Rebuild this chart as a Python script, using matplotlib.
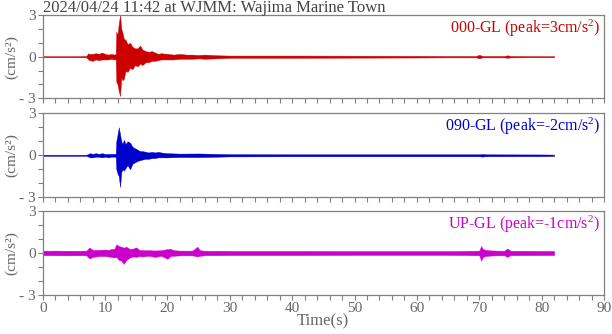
import matplotlib
matplotlib.use("Agg")
import matplotlib.pyplot as plt

plt.rcParams['font.family'] = ['Liberation Serif', 'DejaVu Serif']
plt.rcParams['mathtext.fontset'] = 'custom'
plt.rcParams['mathtext.rm'] = 'Liberation Serif'
plt.rcParams['mathtext.it'] = 'Liberation Serif:italic'

title = "2024/04/24 11:42 at WJMM: Wajima Marine Town"

# envelope of each trace (time s, upper, lower in cm/s^2)
ns_t = [0, 2, 4, 6, 7, 7.3, 7.5, 8, 8.5, 9, 9.5, 10, 10.5, 11, 11.5, 11.7,
        11.8, 12.0, 12.2, 12.4, 12.6, 12.8, 13.0, 13.3, 13.6, 14.0, 14.4, 14.8,
        15.2, 15.6, 16.0, 16.5, 17, 17.5, 18, 18.5, 19, 20, 21, 22, 23, 24, 25,
        26, 28, 30, 40, 50, 60, 65, 69.5, 70, 70.5, 74, 74.5, 75, 80, 82]
ns_up = [0.04, 0.04, 0.04, 0.04, 0.05, 0.25, 0.2, 0.2, 0.25, 0.2, 0.3, 0.2, 0.15, 0.2, 0.15, 0.2,
         1.8, 1.6, 2.4, 3.0, 2.0, 1.7, 1.3, 1.2, 0.9, 1.0, 0.7, 0.6,
         0.6, 0.8, 0.5, 0.4, 0.35, 0.4, 0.3, 0.2, 0.25, 0.2, 0.15, 0.2, 0.15, 0.15, 0.12,
         0.15, 0.1, 0.08, 0.08, 0.07, 0.06, 0.05, 0.05, 0.14, 0.05, 0.05, 0.1, 0.05, 0.04, 0.04]
ns_lo = [-0.04, -0.04, -0.04, -0.04, -0.05, -0.2, -0.25, -0.3, -0.2, -0.25, -0.2, -0.2, -0.2, -0.15, -0.2, -0.2,
         -1.8, -2.0, -2.5, -2.83, -1.5, -1.7, -1.6, -1.0, -1.1, -0.8, -0.9, -0.6,
         -0.7, -0.5, -0.6, -0.4, -0.4, -0.3, -0.3, -0.25, -0.2, -0.2, -0.2, -0.15, -0.15, -0.15, -0.12,
         -0.15, -0.12, -0.08, -0.08, -0.07, -0.06, -0.05, -0.05, -0.12, -0.05, -0.05, -0.08, -0.05, -0.04, -0.04]

ew_t = [0, 2, 4, 6, 7, 7.6, 8, 8.5, 9, 9.5, 10, 10.5, 11, 11.5, 11.7,
        11.8, 12.0, 12.2, 12.4, 12.6, 12.8, 13.0, 13.3, 13.6, 14.0, 14.4, 14.8,
        15.2, 15.6, 16, 16.5, 17, 17.5, 18, 18.5, 19, 20, 22, 25, 28, 30, 40, 50,
        60, 70, 70.5, 71, 80, 82]
ew_up = [0.04, 0.04, 0.04, 0.04, 0.04, 0.15, 0.1, 0.15, 0.1, 0.15, 0.1, 0.1, 0.1, 0.1, 0.12,
         1.0, 1.5, 2.0, 1.5, 1.0, 0.8, 1.1, 0.8, 1.0, 0.9, 0.6, 0.5,
         0.4, 0.3, 0.3, 0.25, 0.2, 0.25, 0.2, 0.25, 0.2, 0.15, 0.12, 0.13, 0.1, 0.08, 0.07, 0.07,
         0.07, 0.07, 0.09, 0.07, 0.06, 0.05]
ew_lo = [-0.04, -0.04, -0.04, -0.04, -0.04, -0.15, -0.15, -0.1, -0.1, -0.15, -0.1, -0.15, -0.1, -0.1, -0.12,
         -1.0, -1.3, -1.5, -2.26, -1.2, -1.0, -1.1, -0.9, -0.7, -1.0, -0.6, -0.5,
         -0.4, -0.35, -0.3, -0.25, -0.25, -0.2, -0.2, -0.15, -0.15, -0.15, -0.12, -0.13, -0.1, -0.08, -0.07, -0.07,
         -0.07, -0.07, -0.09, -0.07, -0.06, -0.05]

ud_t = [0, 2, 4, 6, 7, 7.5, 8, 9, 10, 10.5, 11, 11.5, 11.8, 12.2, 12.6, 13.0, 13.4,
        14, 14.5, 15, 15.5, 16, 17, 18, 19, 20, 20.5, 21, 22, 23, 24, 24.8, 25.2,
        26, 28, 30, 40, 50, 60, 65, 68, 70, 70.3, 70.6, 71, 72, 74, 74.5, 75, 80, 82]
ud_up = [0.16, 0.17, 0.16, 0.16, 0.17, 0.4, 0.22, 0.22, 0.25, 0.22, 0.28, 0.3, 0.62, 0.5, 0.45, 0.38, 0.45,
         0.28, 0.32, 0.4, 0.22, 0.2, 0.2, 0.18, 0.2, 0.28, 0.3, 0.2, 0.17, 0.17, 0.17, 0.45, 0.2,
         0.16, 0.16, 0.15, 0.15, 0.14, 0.14, 0.14, 0.15, 0.17, 0.5, 0.28, 0.22, 0.18, 0.16, 0.32, 0.16, 0.15, 0.15]
ud_lo = [-0.16, -0.16, -0.17, -0.16, -0.17, -0.4, -0.28, -0.22, -0.22, -0.25, -0.28, -0.32, -0.28, -0.5, -0.55, -0.78, -0.5,
         -0.32, -0.25, -0.28, -0.22, -0.25, -0.2, -0.28, -0.2, -0.42, -0.22, -0.2, -0.17, -0.17, -0.17, -0.25, -0.2,
         -0.16, -0.16, -0.15, -0.15, -0.14, -0.14, -0.14, -0.15, -0.17, -0.55, -0.28, -0.22, -0.18, -0.16, -0.28, -0.16, -0.15, -0.15]

labels = ["000-GL (peak=3cm/s$^2$)", "090-GL (peak=-2cm/s$^2$)", "UP-GL (peak=-1cm/s$^2$)"]
colors = ["#cc0000", "#0000cc", "#cc00cc"]
traces = [(ns_t, ns_up, ns_lo), (ew_t, ew_up, ew_lo), (ud_t, ud_up, ud_lo)]

grey = "#808080"
txt = "#666666"

fig = plt.figure(figsize=(6.12, 3.34), dpi=100)
rects = [[0.0698, 0.7055, 0.9171, 0.2496],
         [0.0698, 0.4093, 0.9171, 0.2515],
         [0.0698, 0.1168, 0.9171, 0.2515]]

for i in range(3):
    ax = fig.add_axes(rects[i])
    t, up, lo = traces[i]
    ax.fill_between(t, lo, up, color=colors[i], lw=0.3, edgecolor=colors[i])
    ax.set_xlim(0, 90)
    ax.set_ylim(-3, 3)
    ax.set_yticks(range(-3, 4))
    ax.set_yticklabels(["- 3", "", "", "0", "", "", "3"])
    ax.set_xticks(range(0, 91, 2))
    if i == 2:
        ax.set_xticklabels([str(x) if x % 10 == 0 else "" for x in range(0, 91, 2)])
        ax.set_xlabel("Time(s)", fontsize=12, color=txt, labelpad=-1)
    else:
        ax.set_xticklabels([])
    ax.tick_params(direction='out', length=3.5, width=0.8, color=grey,
                   labelcolor=txt, labelsize=11, pad=1.5)
    for s in ax.spines.values():
        s.set_color(grey)
        s.set_linewidth(0.9)
    ax.set_ylabel("(cm/s²)", fontsize=11, color=txt)
    ax.yaxis.set_label_coords(-0.044, 0.5)
    ax.text(0.993, 0.97, labels[i], transform=ax.transAxes, ha='right', va='top',
            color=colors[i], fontsize=11.5)

fig.text(0.0698, 0.964, title, ha='left', va='baseline', fontsize=12, color="#444444")

fig.savefig("out.png", dpi=100)
